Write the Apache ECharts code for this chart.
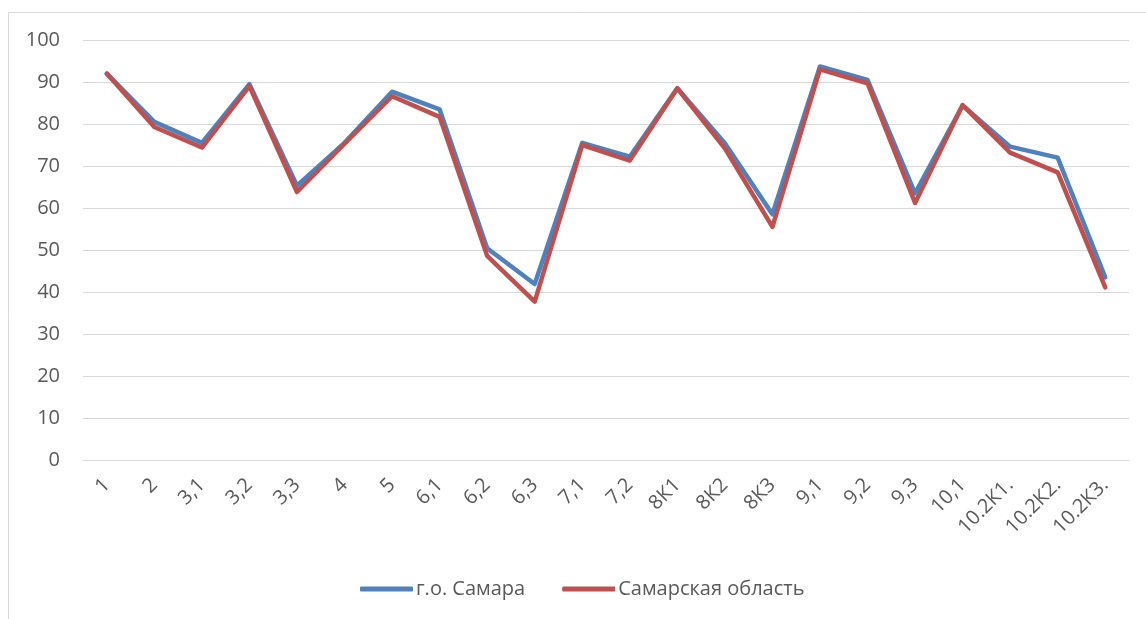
<!DOCTYPE html>
<html>
<head>
<meta charset="utf-8">
<script src="https://cdn.jsdelivr.net/npm/echarts@6/dist/echarts.min.js"></script>
<style>
  html, body { margin: 0; padding: 0; background: #fff; }
  #chart { width: 1146px; height: 619px; }
</style>
</head>
<body>
<div id="chart"></div>
<script>
// категории по оси X
const categories = ['1', '2', '3,1', '3,2', '3,3', '4', '5', '6,1', '6,2', '6,3', '7,1', '7,2',
  '8К1', '8К2', '8К3', '9,1', '9,2', '9,3', '10,1', '10.2К1.', '10.2К2.', '10.2К3.']
// г.о. Самара
const samaraCity = [92, 80.5, 75.5, 89.5, 65.3, 75.5, 87.7, 83.5, 50.4, 41.9, 75.5, 72.2,
  88.5, 75.4, 58.5, 93.7, 90.5, 63.5, 84.4, 74.6, 72, 43.5]
// Самарская область
const samaraRegion = [92, 79.3, 74.4, 89, 63.8, 75.3, 86.6, 81.7, 48.6, 37.7, 75, 71.3,
  88.5, 74.2, 55.5, 93, 89.7, 61.2, 84.5, 73.2, 68.5, 41.1]
const yTicks = { min: 0, max: 100, interval: 10 }

const chart = echarts.init(document.getElementById('chart'))
const font = 'Open Sans, Liberation Sans, sans-serif'

const option = {
  animation: false,
  // рамка области диаграммы
  graphic: [{
    type: 'rect',
    left: 6,
    top: 10,
    shape: { width: 1150, height: 620 },
    style: { fill: 'none', stroke: '#d9d9d9', lineWidth: 1 },
    z: -1
  }],
  grid: { left: 83, right: 17, top: 40, bottom: 159 },
  legend: {
    left: 355,
    top: 574,
    itemWidth: 53,
    itemHeight: 5,
    itemGap: 37,
    icon: 'roundRect',
    textStyle: { fontFamily: font, fontSize: 20, color: '#595959', padding: [0, 0, 0, -2] },
    data: ['г.о. Самара', 'Самарская область']
  },
  xAxis: {
    type: 'category',
    data: categories,
    boundaryGap: true,
    axisLine: { lineStyle: { color: '#d9d9d9' } },
    axisTick: { show: false },
    axisLabel: {
      rotate: 45,
      interval: 0,
      margin: 22,
      fontFamily: font,
      fontSize: 20,
      color: '#595959'
    }
  },
  yAxis: {
    type: 'value',
    min: yTicks.min,
    max: yTicks.max,
    interval: yTicks.interval,
    axisLine: { show: false },
    axisTick: { show: false },
    axisLabel: { margin: 23, fontFamily: font, fontSize: 20, color: '#595959' },
    splitLine: { lineStyle: { color: '#d9d9d9', width: 1.2 } }
  },
  series: [
    {
      name: 'г.о. Самара',
      type: 'line',
      data: samaraCity,
      showSymbol: false,
      symbol: 'none',
      itemStyle: { color: '#4f81bd' },
      lineStyle: { color: '#4f81bd', width: 4.5, cap: 'round', join: 'round' }
    },
    {
      name: 'Самарская область',
      type: 'line',
      data: samaraRegion,
      showSymbol: false,
      symbol: 'none',
      itemStyle: { color: '#c0504d' },
      lineStyle: { color: '#c0504d', width: 4.5, cap: 'round', join: 'round' }
    }
  ]
}
chart.setOption(option)
</script>
</body>
</html>
